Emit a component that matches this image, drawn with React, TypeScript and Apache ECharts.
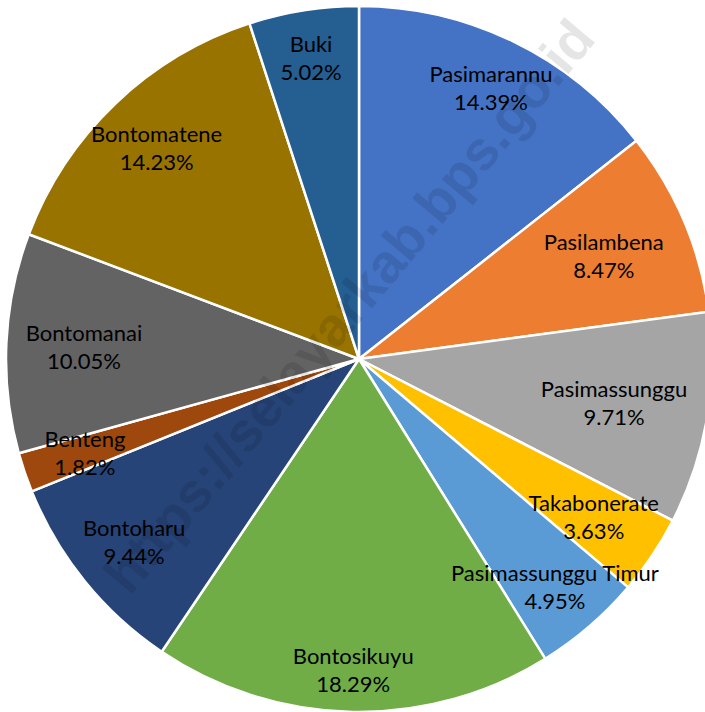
import React, { useEffect, useRef } from "react";
import * as echarts from "echarts";

const categories = [
  "Pasimarannu",
  "Pasilambena",
  "Pasimassunggu",
  "Takabonerate",
  "Pasimassunggu Timur",
  "Bontosikuyu",
  "Bontoharu",
  "Benteng",
  "Bontomanai",
  "Bontomatene",
  "Buki",
];
const shares = [14.39, 8.47, 9.71, 3.63, 4.95, 18.29, 9.44, 1.82, 10.05, 14.23, 5.02];
const colors = [
  "#4472C4",
  "#ED7D31",
  "#A5A5A5",
  "#FFC000",
  "#5B9BD5",
  "#70AD47",
  "#264478",
  "#9E480E",
  "#636363",
  "#997300",
  "#255E91",
];
// radial position of each label, as a fraction of the radius
const labelRadius = [0.856, 0.753, 0.733, 0.8, 0.85, 0.88, 0.82, 0.82, 0.78, 0.83, 0.865];
const watermark = "https://selayarkab.bps.go.id";

const CX = 359;
const CY = 359;
const R = 353;

export default function App() {
  const ref = useRef<HTMLDivElement>(null);
  useEffect(() => {
    if (!ref.current) return;
    const chart = echarts.init(ref.current, undefined, { renderer: "svg" });
    chart.setOption({
      animation: false,
      backgroundColor: "#fff",
      series: [
        {
          type: "pie",
          center: [CX, CY],
          radius: [0, R],
          startAngle: 90,
          clockwise: true,
          avoidLabelOverlap: false,
          itemStyle: { borderColor: "#fff", borderWidth: 2.5 },
          label: {
            show: true,
            position: "inside",
            color: "#000",
            fontFamily: "Lato",
            fontSize: 22,
            lineHeight: 28,
            textBorderWidth: 0,
            formatter: (p: any) => `${p.name}\n${Number(p.value).toFixed(2)}%`,
          },
          labelLine: { show: false },
          labelLayout: (params: any) => {
            const r = params.labelRect;
            const mx = r.x + r.width / 2;
            const my = r.y + r.height / 2;
            const dx = mx - CX;
            const dy = my - CY;
            const len = Math.hypot(dx, dy) || 1;
            const f = labelRadius[params.dataIndex];
            return {
              x: CX + (dx / len) * f * R,
              y: CY + (dy / len) * f * R,
              align: "center",
              verticalAlign: "middle",
            };
          },
          emphasis: { disabled: true },
          data: categories.map((name, i) => ({
            name,
            value: shares[i],
            itemStyle: { color: colors[i] },
          })),
        },
      ],
      graphic: [
        {
          type: "text",
          x: 349,
          y: 306,
          rotation: (50 * Math.PI) / 180,
          z: 100,
          silent: true,
          style: {
            text: watermark,
            font: 'bold 55px "Liberation Sans"',
            fill: "rgba(0,0,0,0.1)",
            align: "center",
            verticalAlign: "middle",
          },
        },
      ],
    });
    return () => chart.dispose();
  }, []);
  return (
    <div
      ref={ref}
      style={{ position: "fixed", left: 0, top: 0, width: 705, height: 712 }}
    />
  );
}
